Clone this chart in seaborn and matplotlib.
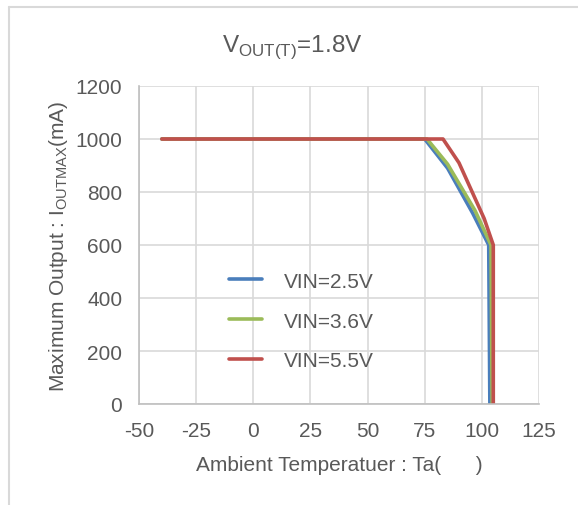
import numpy as np
import pandas as pd
import seaborn as sns
import matplotlib
matplotlib.use("Agg")
import matplotlib.pyplot as plt
from matplotlib.lines import Line2D

# data
temp_25 = [-40, 75, 85, 96, 103, 103.5]
iout_25 = [1000, 1000, 890, 720, 600, 0]
temp_36 = [-40, 76, 85, 97, 104, 104.5]
iout_36 = [1000, 1000, 905, 730, 600, 0]
temp_55 = [-40, 83, 90, 101, 105, 105]
iout_55 = [1000, 1000, 910, 700, 600, 0]
series = ["VIN=2.5V", "VIN=3.6V", "VIN=5.5V"]
colors = ["#4a7ebb", "#9bbb59", "#c0504d"]

x_ticks = [-50, -25, 0, 25, 50, 75, 100, 125]
y_ticks = [0, 200, 400, 600, 800, 1000, 1200]

frames = []
for name, t, i in zip(series, [temp_25, temp_36, temp_55], [iout_25, iout_36, iout_55]):
    frames.append(pd.DataFrame({"temp": t, "iout": i, "series": name}))
df = pd.concat(frames, ignore_index=True)

sns.set_theme(style="white")
plt.rcParams['font.family'] = ['Liberation Sans', 'DejaVu Sans']
plt.rcParams['mathtext.fontset'] = 'custom'
plt.rcParams['mathtext.rm'] = 'Liberation Sans'
plt.rcParams['axes.unicode_minus'] = False
TXT = "#595959"
FS = 15

fig = plt.figure(figsize=(5.78, 5.06), dpi=100)
ax = fig.add_axes([139/578, 1-405/506, 400/578, 318/506])

sns.lineplot(data=df, x="temp", y="iout", hue="series", hue_order=series,
             palette=colors, sort=False, estimator=None, units="series",
             linewidth=2.6, ax=ax, legend=True)

ax.set_xlim(-50, 125)
ax.set_ylim(0, 1200)
ax.set_xticks(x_ticks)
ax.set_yticks(y_ticks)
ax.tick_params(axis="x", length=0, labelsize=FS, labelcolor=TXT, pad=12)
ax.tick_params(axis="y", length=0, labelsize=FS, labelcolor=TXT, pad=12)
ax.grid(True, color="#d9d9d9", linewidth=1.2)
ax.set_axisbelow(True)
for s in ["top", "right"]:
    ax.spines[s].set_visible(False)
for s in ["left", "bottom"]:
    ax.spines[s].set_color("#bfbfbf")
    ax.spines[s].set_linewidth(1.2)

ax.set_xlabel("Ambient Temperatuer : Ta(      )", fontsize=FS, color=TXT, labelpad=11)
ax.set_ylabel(r"Maximum Output : I$_{\mathregular{OUTMAX}}$(mA)", fontsize=FS, color=TXT, labelpad=4)

fig.text(0.505, 1-47/506, r"V$_{\mathregular{OUT(T)}}$=1.8V", ha="center", va="center",
         fontsize=17.5, color=TXT)

leg = ax.legend(loc="upper left", bbox_to_anchor=(0.178, 0.475), frameon=False,
                fontsize=FS, labelspacing=1.0, handlelength=1.6, handletextpad=1.05)
for t in leg.get_texts():
    t.set_color(TXT)
for h in leg.get_lines():
    h.set_linewidth(2.6)
    h.set_solid_capstyle("round")

# chart area border (light gray, left and top visible)
fig.add_artist(Line2D([9/578, 9/578], [0, 1-8/506], color="#d9d9d9", linewidth=1.5))
fig.add_artist(Line2D([9/578, 1], [1-8/506, 1-8/506], color="#d9d9d9", linewidth=1.5))

fig.savefig("out.png", dpi=100)
